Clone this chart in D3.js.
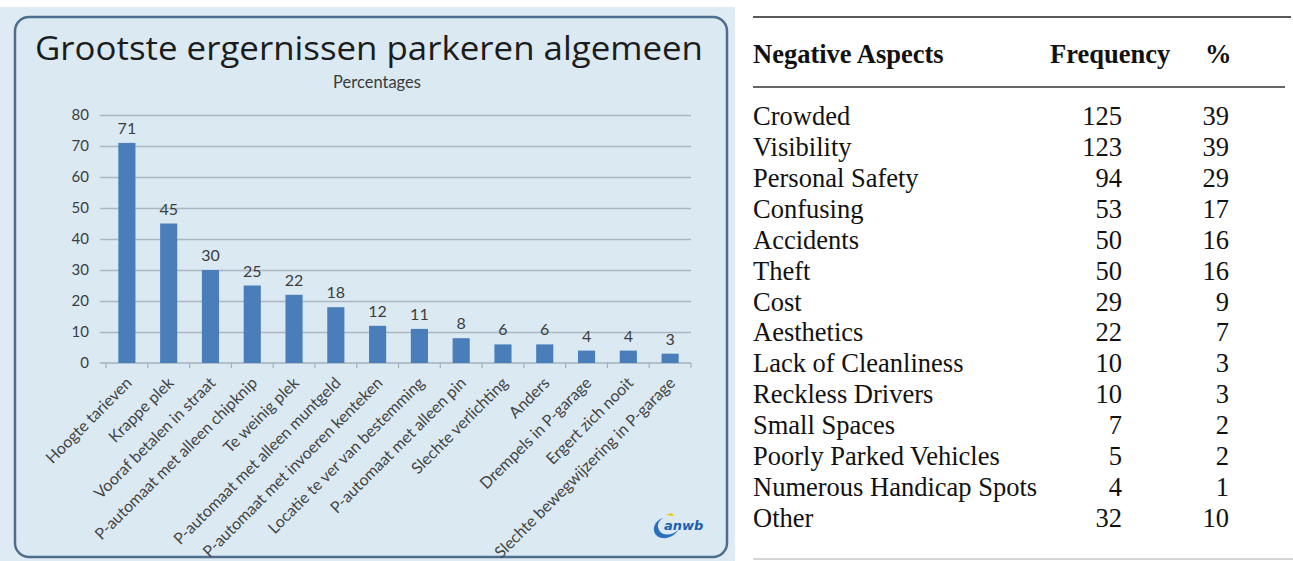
<!DOCTYPE html>
<html lang="nl">
<head>
<meta charset="UTF-8">
<title>Grootste ergernissen parkeren algemeen</title>
<script src="https://d3js.org/d3.v7.min.js"></script>
<style>
    html, body { margin: 0; padding: 0; background: #fff; }
    svg { display: block; }
    .calibri { font-family: Lato, "Open Sans", sans-serif; }
    .serif { font-family: "Liberation Serif", "DejaVu Serif", serif; fill: #111; }
</style>
</head>
<body>
<svg id="chart" width="1293" height="561"></svg>
<script>
// linker grafiek
const categories = [
    "Hoogte tarieven", "Krappe plek", "Vooraf betalen in straat",
    "P-automaat met alleen chipknip", "Te weinig plek", "P-automaat met alleen muntgeld",
    "P-automaat met invoeren kenteken", "Locatie te ver van bestemming",
    "P-automaat met alleen pin", "Slechte verlichting", "Anders",
    "Drempels in P-garage", "Ergert zich nooit", "Slechte bewegwijzering in P-garage"
];
const percentages = [71, 45, 30, 25, 22, 18, 12, 11, 8, 6, 6, 4, 4, 3];
const yTicks = [0, 10, 20, 30, 40, 50, 60, 70, 80];

// rechter tabel
const aspects = [
    "Crowded", "Visibility", "Personal Safety", "Confusing", "Accidents", "Theft",
    "Cost", "Aesthetics", "Lack of Cleanliness", "Reckless Drivers", "Small Spaces",
    "Poorly Parked Vehicles", "Numerous Handicap Spots", "Other"
];
const frequency = [125, 123, 94, 53, 50, 50, 29, 22, 10, 10, 7, 5, 4, 32];
const percent = [39, 39, 29, 17, 16, 16, 9, 7, 3, 3, 2, 2, 1, 10];
const headers = ["Negative Aspects", "Frequency", "%"];

const svg = d3.select("#chart");

// ---- paneel links ----
svg.append("rect").attr("x", 0).attr("y", 7).attr("width", 735).attr("height", 554)
    .attr("fill", "#deebf4");
svg.append("rect").attr("x", 15).attr("y", 17).attr("width", 712).attr("height", 540)
    .attr("rx", 14).attr("fill", "#dbe9f2")
    .attr("stroke", "#4f6d8c").attr("stroke-width", 2.5);

svg.append("text")
    .attr("x", 369).attr("y", 60).attr("text-anchor", "middle")
    .attr("font-family", "'Open Sans', Lato, sans-serif")
    .attr("font-size", 33).attr("fill", "#1c1c1c")
    .attr("textLength", 668).attr("lengthAdjust", "spacingAndGlyphs")
    .text("Grootste ergernissen parkeren algemeen");
svg.append("text").attr("class", "calibri")
    .attr("x", 377).attr("y", 88).attr("text-anchor", "middle")
    .attr("font-size", 16.5).attr("fill", "#3a3a3a")
    .text("Percentages");

const plot = { left: 106, right: 691, top: 115, bottom: 363 };

const x = d3.scaleBand()
    .domain(categories)
    .range([plot.left, plot.right])
    .paddingInner(0.59)
    .paddingOuter(0.295);

const y = d3.scaleLinear()
    .domain([0, 80])
    .range([plot.bottom, plot.top]);

// rasterlijnen + y-as
const yAxis = svg.append("g")
    .attr("transform", `translate(${plot.left - 6},0)`)
    .call(d3.axisLeft(y).tickValues(yTicks).tickSize(-(plot.right - plot.left + 6)).tickPadding(11));
yAxis.select(".domain").remove();
yAxis.selectAll(".tick line")
    .attr("stroke", d => d === 0 ? "none" : "#aab8c4").attr("stroke-width", 1.6);
yAxis.selectAll(".tick text")
    .attr("class", "calibri").attr("font-size", 15).attr("fill", "#3d3d3d");

// x-as met streepjes tussen de categorieën
const xAxisG = svg.append("g");
xAxisG.append("line")
    .attr("x1", plot.left - 6).attr("x2", plot.right)
    .attr("y1", y(0)).attr("y2", y(0))
    .attr("stroke", "#a2b0bd").attr("stroke-width", 1.6);
const step = x.step();
xAxisG.selectAll("line.tk")
    .data(d3.range(categories.length + 1))
    .join("line").attr("class", "tk")
    .attr("x1", i => plot.left + i * step).attr("x2", i => plot.left + i * step)
    .attr("y1", y(0)).attr("y2", y(0) + 5)
    .attr("stroke", "#a2b0bd").attr("stroke-width", 1.2);

xAxisG.selectAll("text.lbl")
    .data(categories)
    .join("text").attr("class", "lbl calibri")
    .attr("transform", d => `translate(${x(d) + x.bandwidth() / 2 + 6},${y(0) + 21}) rotate(-45)`)
    .attr("text-anchor", "end")
    .attr("font-size", 16)
    .attr("fill", "#444")
    .text(d => d);

// staven
svg.selectAll("rect.bar")
    .data(percentages)
    .join("rect").attr("class", "bar")
    .attr("x", (d, i) => x(categories[i]))
    .attr("y", d => y(d))
    .attr("width", x.bandwidth())
    .attr("height", d => y(0) - y(d))
    .attr("fill", "#4a7ebb");

svg.selectAll("text.val")
    .data(percentages)
    .join("text").attr("class", "val calibri")
    .attr("x", (d, i) => x(categories[i]) + x.bandwidth() / 2)
    .attr("y", d => y(d) - 9)
    .attr("text-anchor", "middle")
    .attr("font-size", 16)
    .attr("fill", "#3d3d3d")
    .text(d => d);

// anwb-logo
const logo = svg.append("g").attr("transform", "translate(668,528)");
logo.append("path")
    .attr("d", "M-4,-10 C-16,-8 -18,8 -6,10 C2,11 8,6 10,2 C4,8 -6,8 -9,2 C-12,-4 -8,-9 -4,-10 Z")
    .attr("fill", "#2a70c0");
logo.append("text").attr("x", -4).attr("y", 2)
    .attr("font-family", "DejaVu Sans, sans-serif").attr("font-style", "italic").attr("font-weight", "bold")
    .attr("font-size", 13).attr("fill", "#1c5fae")
    .text("anwb");
logo.append("path").attr("d", "M-2,-13 L4,-15 L6,-12 Z").attr("fill", "#f5c400");

// ---- tabel rechts ----
const tableLeft = 753;
const colFreqRight = 1122;
const colPctRight = 1229;

svg.append("line").attr("x1", tableLeft).attr("x2", 1291).attr("y1", 17).attr("y2", 17)
    .attr("stroke", "#222").attr("stroke-width", 1.6);
svg.append("line").attr("x1", tableLeft).attr("x2", 1285).attr("y1", 87).attr("y2", 87)
    .attr("stroke", "#333").attr("stroke-width", 1.4);
svg.append("line").attr("x1", tableLeft).attr("x2", 1293).attr("y1", 559).attr("y2", 559)
    .attr("stroke", "#c8c8c8").attr("stroke-width", 1.4);

const headerX = [tableLeft, 1050, 1205];
svg.selectAll("text.hdr")
    .data(headers)
    .join("text").attr("class", "hdr serif")
    .attr("x", (d, i) => headerX[i]).attr("y", 63)
    .attr("font-size", 26.5).attr("font-weight", "bold")
    .text(d => d);

const row = d3.scalePoint()
    .domain(aspects)
    .range([125, 527]);

const rows = svg.append("g").selectAll("g")
    .data(aspects)
    .join("g")
    .attr("transform", d => `translate(0,${row(d)})`);

rows.append("text").attr("class", "serif")
    .attr("x", tableLeft).attr("font-size", 26.5)
    .text(d => d);
rows.append("text").attr("class", "serif")
    .attr("x", colFreqRight).attr("text-anchor", "end").attr("font-size", 26.5)
    .text((d, i) => frequency[i]);
rows.append("text").attr("class", "serif")
    .attr("x", colPctRight).attr("text-anchor", "end").attr("font-size", 26.5)
    .text((d, i) => percent[i]);
</script>
</body>
</html>
